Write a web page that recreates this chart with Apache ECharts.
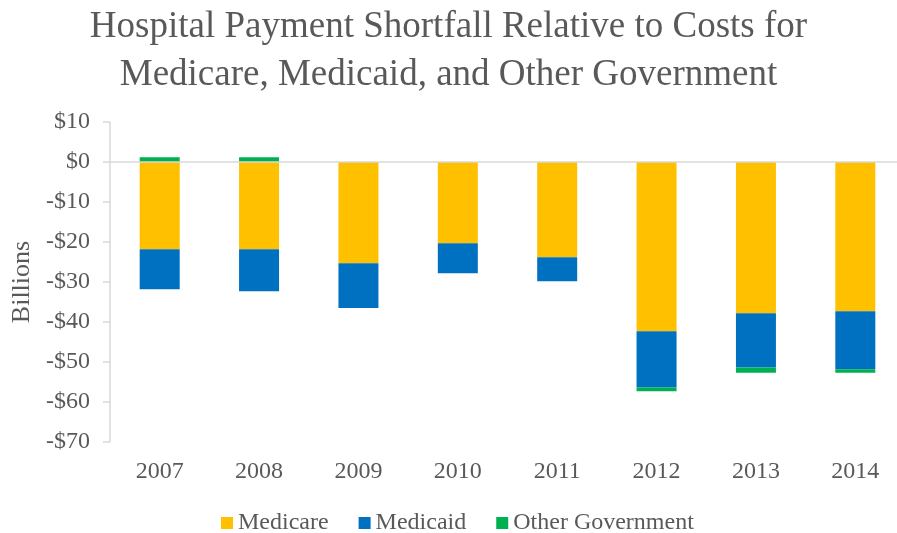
<!DOCTYPE html>
<html>
<head>
<meta charset="utf-8">
<script src="https://cdn.jsdelivr.net/npm/echarts@6/dist/echarts.min.js"></script>
<style>
html,body{margin:0;padding:0;background:#fff;}
#chart{width:897px;height:533px;}
</style>
</head>
<body>
<div id="chart"></div>
<script>
var categories = ['2007','2008','2009','2010','2011','2012','2013','2014'];
var medicare = [-21.8, -21.8, -25.3, -20.3, -23.8, -42.3, -37.8, -37.3];
var medicaid = [-10.0, -10.5, -11.2, -7.5, -6.0, -14.1, -13.6, -14.5];
var otherGov = [1.2, 1.2, 0, 0, 0, -0.9, -1.3, -0.9];
var yTicks = {min: -70, max: 10, interval: 10};

var textColor = '#595959';
var serif = '"Liberation Serif","Times New Roman",serif';

var chart = echarts.init(document.getElementById('chart'));
chart.setOption({
  animation: false,
  title: {
    text: 'Hospital Payment Shortfall Relative to Costs for\nMedicare, Medicaid, and Other Government',
    left: 'center',
    top: -2,
    textStyle: {fontFamily: serif, fontSize: 37, fontWeight: 'normal', color: textColor, lineHeight: 48}
  },
  legend: {
    top: 506,
    left: 216,
    itemWidth: 12,
    itemHeight: 12,
    itemGap: 30,
    icon: 'rect',
    textStyle: {fontFamily: serif, fontSize: 24, color: textColor},
    data: ['Medicare','Medicaid','Other Government']
  },
  grid: {left: 110, right: -8, top: 122, bottom: 91, containLabel: false, outerBoundsMode: 'none'},
  xAxis: {
    type: 'category',
    data: categories,
    axisLine: {show: false},
    axisTick: {show: false},
    axisLabel: {fontFamily: serif, fontSize: 24, color: textColor, margin: 18}
  },
  yAxis: {
    type: 'value',
    min: yTicks.min, max: yTicks.max, interval: yTicks.interval,
    name: 'Billions',
    nameLocation: 'middle',
    nameGap: 74,
    nameTextStyle: {fontFamily: serif, fontSize: 26, color: textColor},
    axisLine: {show: true, lineStyle: {color: '#d9d9d9', width: 1.5}},
    axisTick: {show: true, length: 7, lineStyle: {color: '#d9d9d9', width: 1.5}},
    splitLine: {show: false},
    axisLabel: {
      fontFamily: serif, fontSize: 24, color: textColor, margin: 20,
      formatter: function (v) { return v < 0 ? '-$' + (-v) : '$' + v; }
    }
  },
  series: [
    {
      name: 'Medicare', type: 'bar', stack: 'total', data: medicare, barWidth: 40,
      itemStyle: {color: '#FFC000'},
      markLine: {
        silent: true, symbol: 'none', label: {show: false},
        lineStyle: {color: '#d9d9d9', type: 'solid', width: 1.5},
        data: [{yAxis: 0}]
      }
    },
    {name: 'Medicaid', type: 'bar', stack: 'total', data: medicaid, barWidth: 40, itemStyle: {color: '#0070C0'}},
    {name: 'Other Government', type: 'bar', stack: 'total', data: otherGov, barWidth: 40, itemStyle: {color: '#00B050'}}
  ]
});
</script>
</body>
</html>
